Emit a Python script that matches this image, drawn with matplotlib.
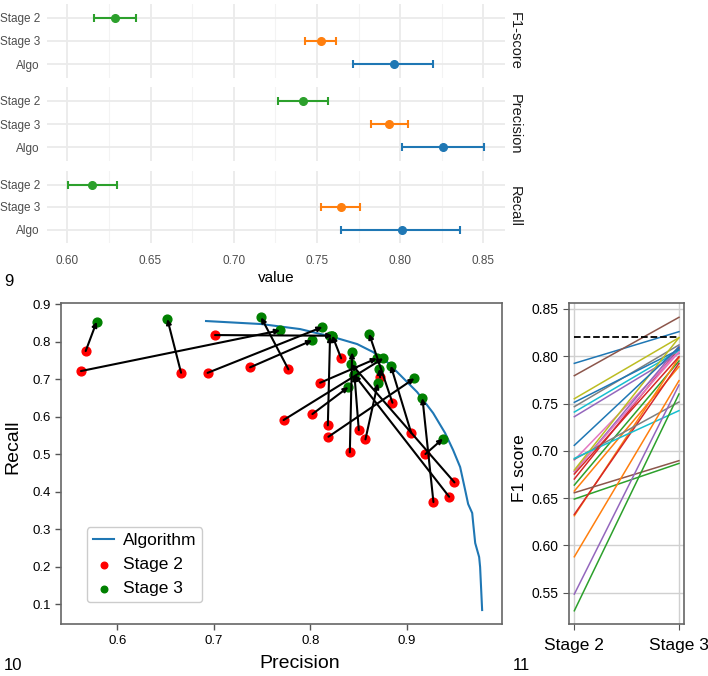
import matplotlib
matplotlib.use("Agg")
import matplotlib.pyplot as plt
import numpy as np

plt.rcParams['font.family'] = ['Liberation Sans', 'DejaVu Sans']

# panel 9: mean and CI per metric (rows: Algo, Stage 3, Stage 2)
groups = ['Algo', 'Stage 3', 'Stage 2']
metrics = ['F1-score', 'Precision', 'Recall']
f1_mean = [0.7962, 0.7523, 0.6287]
f1_lo = [0.7717, 0.7428, 0.6162]
f1_hi = [0.8196, 0.7613, 0.6413]
prec_mean = [0.8256, 0.7935, 0.7418]
prec_lo = [0.8010, 0.7825, 0.7268]
prec_hi = [0.8504, 0.8047, 0.7569]
rec_mean = [0.8013, 0.7643, 0.6150]
rec_lo = [0.7643, 0.7523, 0.6004]
rec_hi = [0.8360, 0.7761, 0.6297]

# panel 10: precision/recall curve + stage 2 -> stage 3 moves
algo_prec = [0.6920, 0.7491, 0.7895, 0.8238, 0.8487, 0.8652, 0.8798, 0.8933, 0.9109, 0.9275, 0.9399,
             0.9482, 0.9555, 0.9607, 0.9638, 0.9680, 0.9690, 0.9711, 0.9752, 0.9762, 0.9783]
algo_rec = [0.8547, 0.8467, 0.8333, 0.8120, 0.7933, 0.7720, 0.7453, 0.7107, 0.6653, 0.6093, 0.5560,
            0.5107, 0.4653, 0.4040, 0.3667, 0.3427, 0.3160, 0.2627, 0.2253, 0.1987, 0.0840]
s2_prec = [0.5672, 0.5623, 0.6661, 0.7013, 0.6936, 0.7377, 0.7774, 0.8321, 0.8103, 0.7724, 0.8023, 0.8183,
           0.8189, 0.8411, 0.8504, 0.8573, 0.8725, 0.8853, 0.9047, 0.9195, 0.9278, 0.9441, 0.9496]
s2_rec = [0.7747, 0.7213, 0.7168, 0.8173, 0.7165, 0.7312, 0.7259, 0.7552, 0.6901, 0.5907, 0.6067, 0.5765,
          0.5461, 0.5045, 0.5640, 0.5392, 0.7045, 0.6368, 0.5568, 0.5000, 0.3720, 0.3861, 0.4245]
s3_prec = [0.5786, 0.7688, 0.6519, 0.8230, 0.8127, 0.8020, 0.7491, 0.8230, 0.8691, 0.8757, 0.8396, 0.8206,
           0.9081, 0.8435, 0.8459, 0.8701, 0.8718, 0.8611, 0.8836, 0.9376, 0.9164, 0.8459, 0.8427]
s3_rec = [0.8528, 0.8299, 0.8600, 0.8155, 0.8387, 0.8032, 0.8645, 0.8155, 0.7552, 0.7552, 0.6787, 0.8147,
          0.7019, 0.7712, 0.7107, 0.6885, 0.7275, 0.8208, 0.7355, 0.5408, 0.6493, 0.7107, 0.7400]

# panel 11: F1 per case, stage 2 vs stage 3
f1_stage2 = [0.7925, 0.6575, 0.6638, 0.6702, 0.7361, 0.7795, 0.6903, 0.7467, 0.7551, 0.7410,
             0.7513, 0.6314, 0.6490, 0.6328, 0.6780, 0.6557, 0.6785, 0.6910, 0.6797, 0.6920,
             0.7058, 0.5880, 0.5309, 0.6755, 0.5485]
f1_stage3 = [0.8260, 0.7890, 0.7950, 0.8084, 0.8030, 0.8412, 0.8050, 0.8120, 0.8197, 0.8060,
             0.8070, 0.7985, 0.6867, 0.7925, 0.8105, 0.6896, 0.8045, 0.7516, 0.8197, 0.7425,
             0.8095, 0.7742, 0.7601, 0.7996, 0.7696]
f1_ref = 0.82
stage_labels = ['Stage 2', 'Stage 3']

fig = plt.figure(figsize=(7.08, 6.76), dpi=100)
W, H = 708.0, 676.0

def fig_rect(x0, y0, x1, y1):
    return [x0 / W, 1 - y1 / H, (x1 - x0) / W, (y1 - y0) / H]

cols = ['#1f77b4', '#ff7f0e', '#2ca02c']
facet_data = [(f1_mean, f1_lo, f1_hi), (prec_mean, prec_lo, prec_hi), (rec_mean, rec_lo, rec_hi)]
facet_y = [(4, 78), (87, 161), (171, 243)]
xt = np.arange(0.60, 0.851, 0.05)
for k, (name, (m, lo, hi), (ya, yb)) in enumerate(zip(metrics, facet_data, facet_y)):
    ax = fig.add_axes(fig_rect(46.7, ya, 505, yb))
    for i in range(3):
        ax.errorbar(m[i], i + 1, xerr=[[m[i] - lo[i]], [hi[i] - m[i]]], fmt='o', color=cols[i],
                    ms=5.5, capsize=3.2, elinewidth=1.5, capthick=1.5, zorder=3)
    ax.set_xlim(0.5876, 0.863)
    ax.set_ylim(0.4, 3.6)
    ax.set_xticks(xt)
    ax.set_xticks(np.arange(0.625, 0.86, 0.05), minor=True)
    ax.set_yticks([1, 2, 3])
    ax.set_yticklabels(groups, fontsize=8.5, color='#4d4d4d')
    ax.grid(which='major', color='#ebebeb', lw=1.3)
    ax.grid(which='minor', axis='x', color='#f3f3f3', lw=0.8)
    ax.set_axisbelow(True)
    for s in ax.spines.values():
        s.set_visible(False)
    ax.tick_params(which='both', length=0, pad=5)
    if k < 2:
        ax.set_xticklabels([])
    else:
        ax.set_xticklabels(['%.2f' % v for v in xt], fontsize=8.5, color='#4d4d4d')
        ax.tick_params(axis='x', pad=9)
    fig.text(515 / W, 1 - (ya + yb) / 2 / H, name, rotation=270, ha='center', va='center',
             fontsize=10.5, color='#1a1a1a')
fig.text(276 / W, 1 - 278 / H, 'value', ha='center', va='center', fontsize=11)
fig.text(4 / W, 1 - 282 / H, '9', ha='left', va='center', fontsize=12)

# panel 10
ax2 = fig.add_axes(fig_rect(61, 303.3, 502, 624.3))
ax2.plot(algo_prec, algo_rec, color='#1f77b4', lw=1.5, label='Algorithm')
ax2.scatter(s2_prec, s2_rec, s=40, color='red', label='Stage 2', zorder=3)
ax2.scatter(s3_prec, s3_rec, s=40, color='green', label='Stage 3', zorder=3)
for x0, y0, x1, y1 in zip(s2_prec, s2_rec, s3_prec, s3_rec):
    ax2.annotate('', xy=(x1, y1), xytext=(x0, y0),
                 arrowprops=dict(arrowstyle='-|>', color='black', lw=1.5, mutation_scale=7,
                                 shrinkA=0, shrinkB=0), zorder=4)
ax2.set_xlim(0.5416, 0.9989)
ax2.set_ylim(0.046, 0.902)
ax2.set_xticks([0.6, 0.7, 0.8, 0.9])
ax2.set_yticks([0.1, 0.2, 0.3, 0.4, 0.5, 0.6, 0.7, 0.8, 0.9])
ax2.tick_params(labelsize=9.5, length=4, color='#555555', width=1)
for s in ax2.spines.values():
    s.set_color('#666666')
    s.set_linewidth(1.2)
ax2.set_xlabel('Precision', fontsize=14)
ax2.set_ylabel('Recall', fontsize=14)
ax2.xaxis.set_label_coords(0.542, -0.095)
ax2.yaxis.set_label_coords(-0.09, 0.552)
leg = ax2.legend(loc='lower left', bbox_to_anchor=(0.059, 0.069), borderaxespad=0, fontsize=12.5,
                 handlelength=1.2, handletextpad=0.5, labelspacing=0.5, borderpad=0.35,
                 markerscale=0.75, fancybox=True, framealpha=1)
leg.get_frame().set_edgecolor('#cccccc')
fig.text(4 / W, 1 - 665 / H, '10', ha='left', va='center', fontsize=12)

# panel 11
ax3 = fig.add_axes(fig_rect(569.3, 303.3, 684, 624.3))
for a, b in zip(f1_stage2, f1_stage3):
    ax3.plot([0, 1], [a, b], lw=1.1)
ax3.plot([0, 1], [f1_ref, f1_ref], color='black', ls='--', lw=1.3)
ax3.set_xlim(-0.048, 1.048)
ax3.set_ylim(0.5166, 0.856)
ax3.set_xticks([0, 1])
ax3.set_xticklabels(stage_labels, fontsize=12.5)
yt = [0.55, 0.60, 0.65, 0.70, 0.75, 0.80, 0.85]
ax3.set_yticks(yt)
ax3.set_yticklabels(['%.2f' % v for v in yt])
ax3.tick_params(axis='y', labelsize=10, length=4, color='#555555')
ax3.tick_params(axis='x', length=4, color='#555555', pad=6)
ax3.grid(color='#d0d0d0', lw=1)
ax3.set_axisbelow(True)
for s in ax3.spines.values():
    s.set_color('#666666')
    s.set_linewidth(1.2)
ax3.set_ylabel('F1 score', fontsize=12.5)
ax3.yaxis.set_label_coords(-0.37, 0.487)
fig.text(513 / W, 1 - 665 / H, '11', ha='left', va='center', fontsize=12)

fig.savefig('out.png', dpi=100)
